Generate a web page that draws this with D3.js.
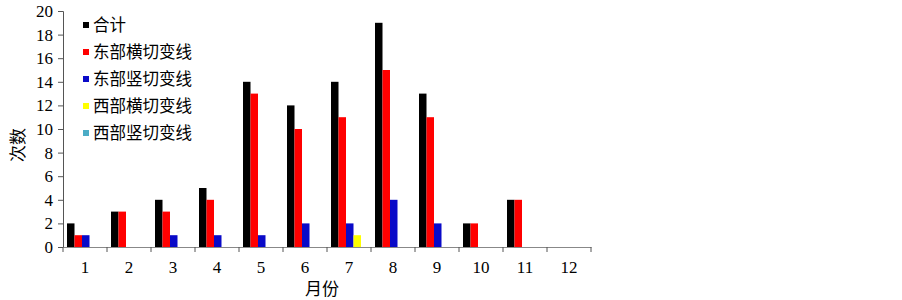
<!DOCTYPE html>
<html lang="zh">
<head>
<meta charset="utf-8">
<title>切变线月分布</title>
<script src="https://cdn.jsdelivr.net/npm/d3@7"></script>
<style>
  body { margin: 0; background: #fff; }
  svg text { font-family: "Liberation Serif", "Times New Roman", serif; }
  .cjk { font-family: "Noto Sans CJK SC", sans-serif; }
</style>
</head>
<body>
<div id="chart"></div>
<script>
// months on the x axis
var months = ["1", "2", "3", "4", "5", "6", "7", "8", "9", "10", "11", "12"];
var seriesNames = ["合计", "东部横切变线", "东部竖切变线", "西部横切变线", "西部竖切变线"];
var seriesColors = ["#000000", "#ff0000", "#0a0ac8", "#ffff00", "#4bacc6"];
// counts per month
var total    = [2, 3, 4, 5, 14, 12, 14, 19, 13, 2, 4, 0];
var eastH    = [1, 3, 3, 4, 13, 10, 11, 15, 11, 2, 4, 0];
var eastV    = [1, 0, 1, 1, 1, 2, 2, 4, 2, 0, 0, 0];
var westH    = [0, 0, 0, 0, 0, 0, 1, 0, 0, 0, 0, 0];
var westV    = [0, 0, 0, 0, 0, 0, 0, 0, 0, 0, 0, 0];
var yTicks   = [0, 2, 4, 6, 8, 10, 12, 14, 16, 18, 20];

var allSeries = [total, eastH, eastV, westH, westV];

var w = 902, h = 300;
var svg = d3.select("#chart").append("svg")
    .attr("width", w).attr("height", h);

var x0 = d3.scaleBand().domain(months).range([63, 591]);
var x1 = d3.scaleBand().domain(d3.range(seriesNames.length)).range([4, 41.5]);
var y = d3.scaleLinear().domain([0, 20]).range([247, 11]);

// bars
months.forEach(function(m, i) {
    var g = svg.append("g").attr("transform", "translate(" + x0(m) + ",0)");
    allSeries.forEach(function(s, j) {
        if (s[i] > 0) {
            g.append("rect")
             .attr("x", x1(j))
             .attr("y", y(s[i]))
             .attr("width", x1.bandwidth())
             .attr("height", y(0) - y(s[i]))
             .attr("fill", seriesColors[j]);
        }
    });
});

// y axis
var yAxis = svg.append("g")
    .attr("transform", "translate(63,0)")
    .call(d3.axisLeft(y).tickValues(yTicks).tickSize(5).tickPadding(5));
yAxis.selectAll("text").attr("font-size", "17px").attr("fill", "#000")
    .style("font-family", "'Liberation Serif', serif");
yAxis.selectAll("line").attr("stroke", "#555");
yAxis.select(".domain").attr("stroke", "#555");

// x axis
var xAxis = svg.append("g")
    .attr("transform", "translate(0,247)")
    .call(d3.axisBottom(x0).tickSize(0).tickPadding(14));
xAxis.selectAll("text").attr("font-size", "17px").attr("fill", "#000")
    .style("font-family", "'Liberation Serif', serif");
xAxis.select(".domain").attr("stroke", "#888");
// tick marks on category boundaries
xAxis.selectAll(".sep")
    .data(months.concat(["end"]))
    .enter().append("line")
    .attr("x1", function(d, i) { return i < months.length ? x0(d) : x0.range()[1]; })
    .attr("x2", function(d, i) { return i < months.length ? x0(d) : x0.range()[1]; })
    .attr("y1", 0).attr("y2", 5)
    .attr("stroke", "#555");

// axis titles
svg.append("text").attr("class", "cjk")
    .attr("transform", "translate(24,145) rotate(-90)")
    .attr("text-anchor", "middle")
    .attr("font-size", "17px")
    .text("次数");
svg.append("text").attr("class", "cjk")
    .attr("x", 322).attr("y", 295)
    .attr("text-anchor", "middle")
    .attr("font-size", "17px")
    .text("月份");

// legend
var legend = svg.append("g").attr("transform", "translate(83,25)");
seriesNames.forEach(function(name, i) {
    var row = legend.append("g").attr("transform", "translate(0," + (i * 27) + ")");
    row.append("rect").attr("x", 0).attr("y", -3).attr("width", 6).attr("height", 6)
       .attr("fill", seriesColors[i]);
    row.append("text").attr("class", "cjk")
       .attr("x", 10).attr("y", 0).attr("dy", "0.35em")
       .attr("font-size", "16.5px")
       .text(name);
});
</script>
</body>
</html>
